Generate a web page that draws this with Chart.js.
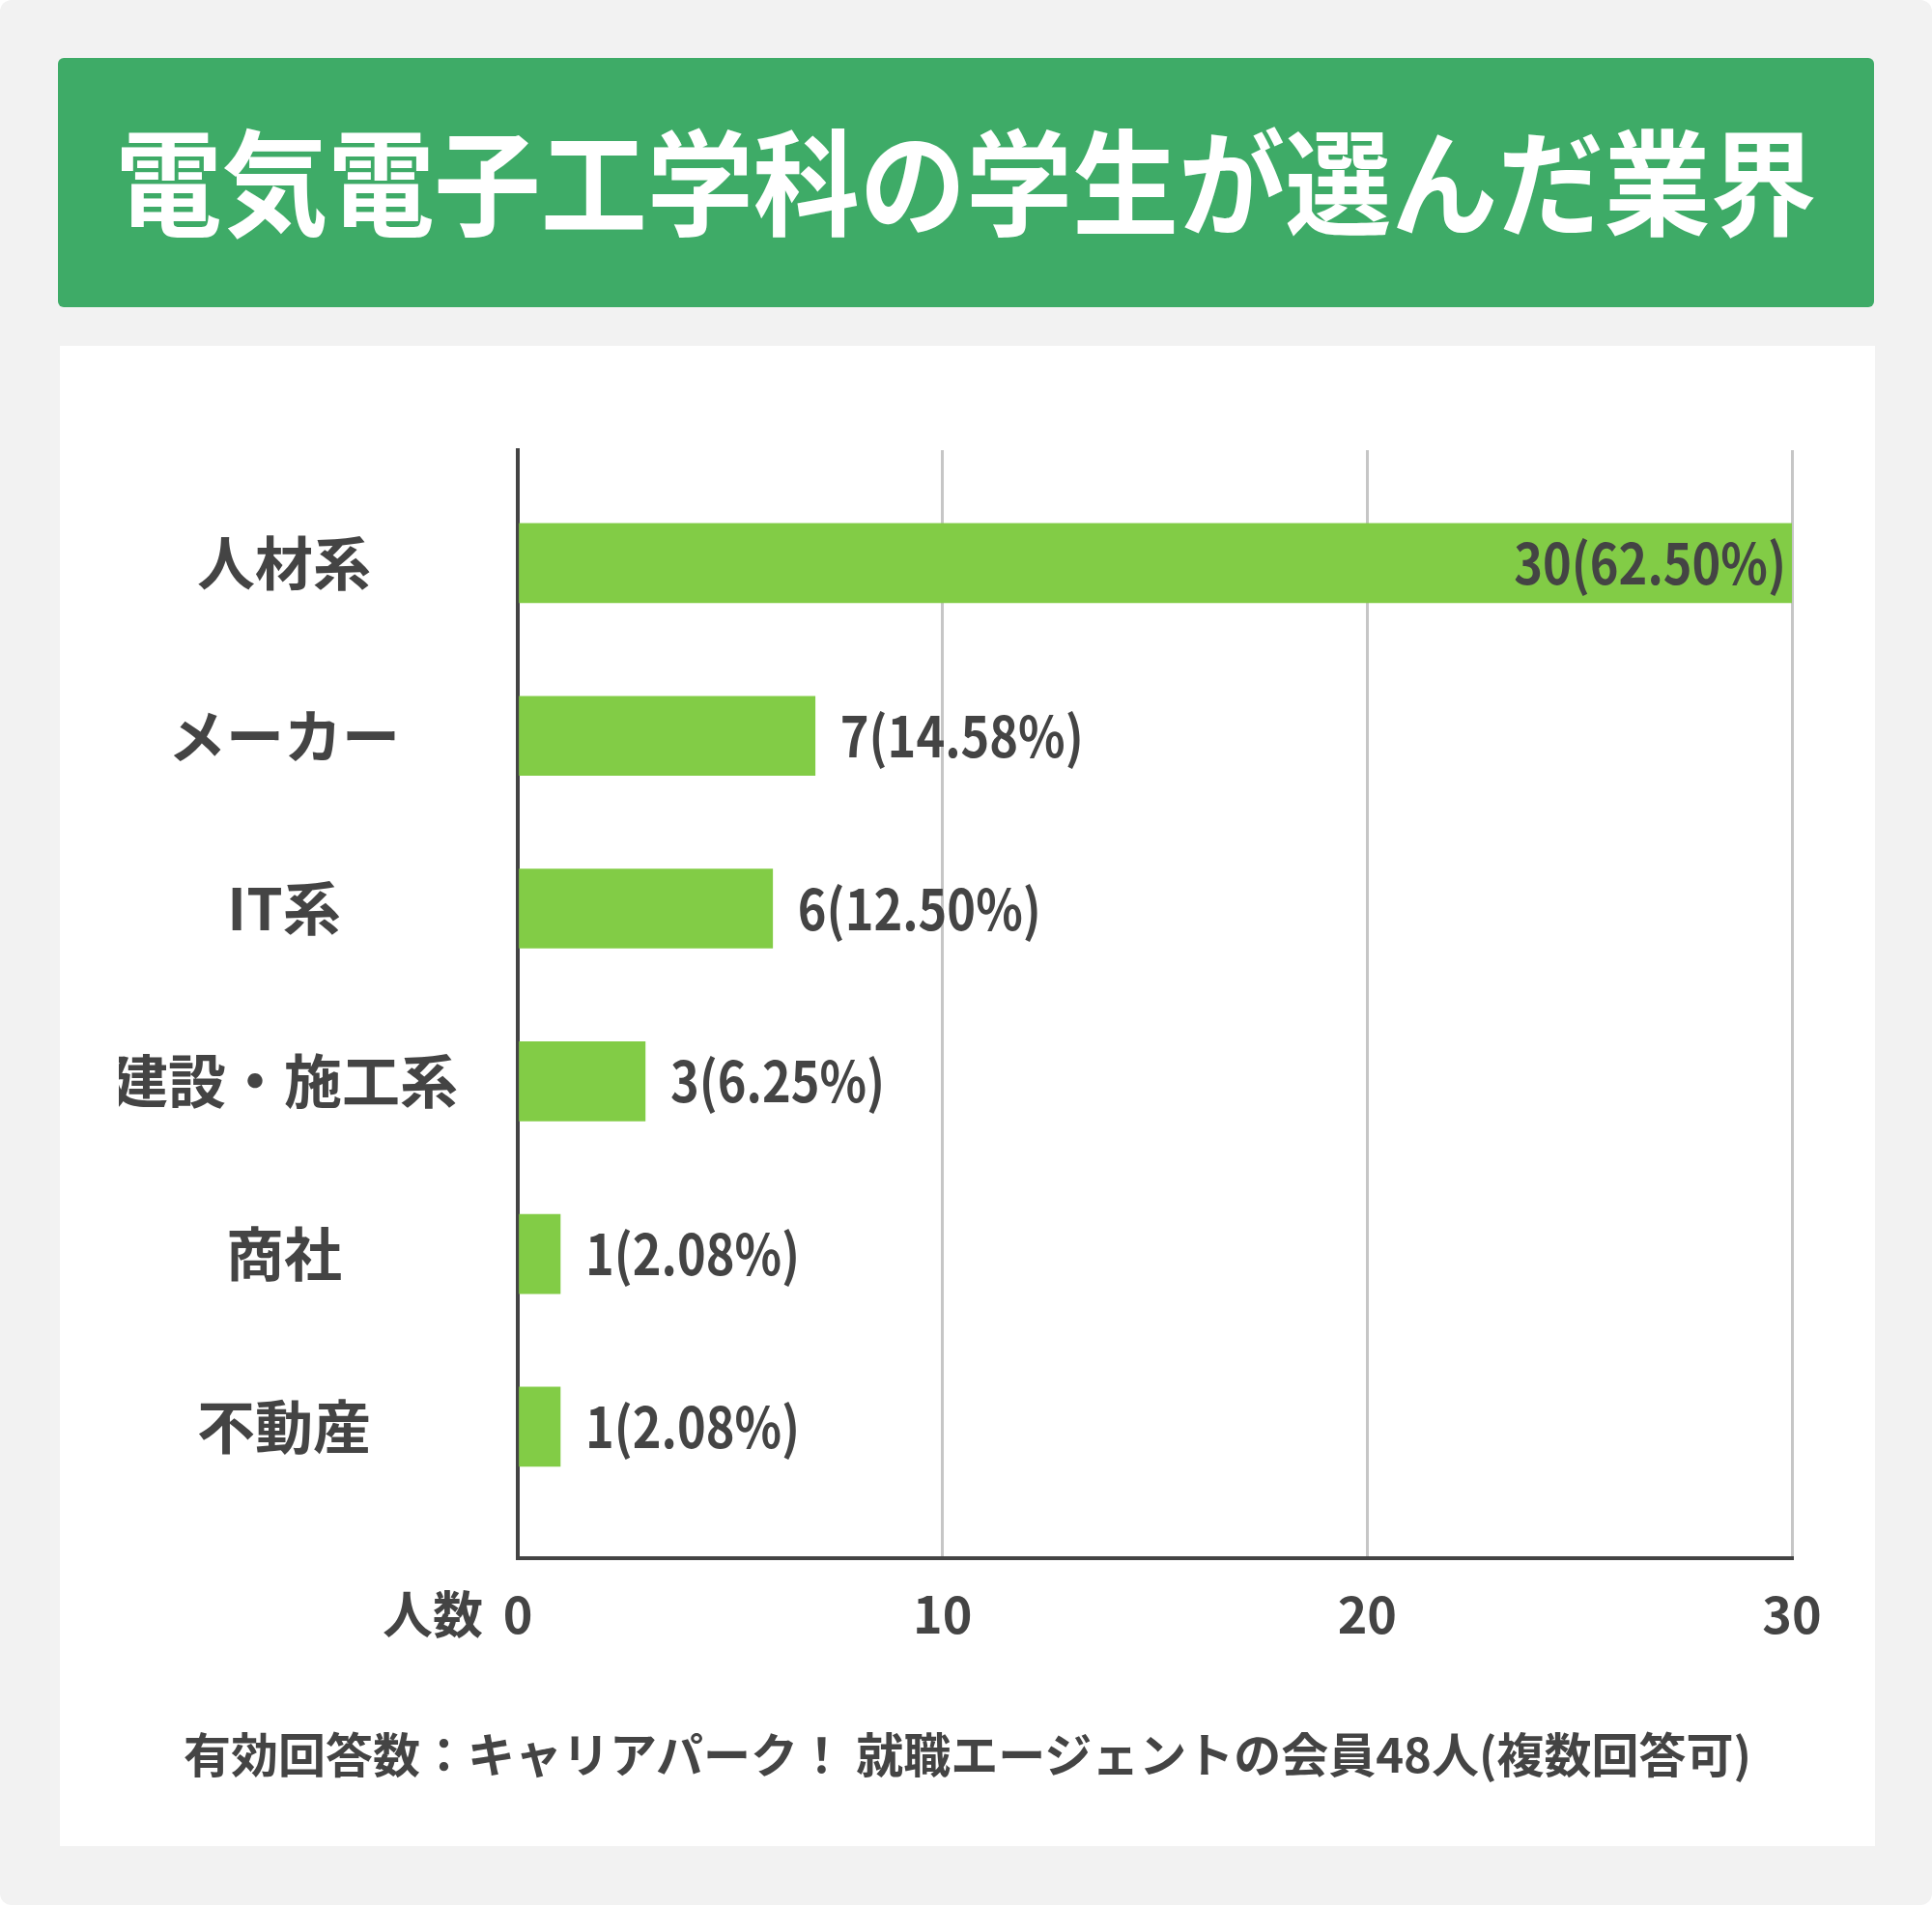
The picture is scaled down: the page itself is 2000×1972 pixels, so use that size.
<!DOCTYPE html>
<html lang="ja">
<head>
<meta charset="utf-8">
<title>電気電子工学科の学生が選んだ業界</title>
<script src="https://cdn.jsdelivr.net/npm/chart.js@4.4.1/dist/chart.umd.min.js"></script>
<style>
    html, body {
        margin: 0;
        padding: 0;
        background: #ffffff;
        overflow: hidden;
    }
    #page {
        position: absolute;
        left: 0;
        top: 0;
        width: 2000px;
        height: 1972px;
        background: #f2f2f2;
        border-radius: 12px;
        font-family: "Noto Sans CJK JP", "Noto Sans", sans-serif;
    }
    #header {
        position: absolute;
        left: 60px;
        top: 60px;
        width: 1880px;
        height: 258px;
        background: #3eab67;
        border-radius: 6px;
        display: flex;
        align-items: center;
        justify-content: center;
        padding-bottom: 12px;
        box-sizing: border-box;
    }
    #header span {
        display: inline-block;
        color: #ffffff;
        font-weight: bold;
        font-size: 119px;
        line-height: 1;
        white-space: nowrap;
        transform: scaleX(0.925);
    }
    #panel {
        position: absolute;
        left: 62px;
        top: 358px;
        width: 1879px;
        height: 1553px;
        background: #ffffff;
    }
    #note {
        position: absolute;
        left: 62px;
        width: 1879px;
        top: 1782px;
        text-align: center;
        color: #444444;
        font-weight: bold;
        font-size: 49px;
        line-height: 64px;
        white-space: nowrap;
    }
    #chart {
        position: absolute;
        left: 0;
        top: 0;
    }
</style>
</head>
<body>
<div id="page">
    <div id="header"><span>電気電子工学科の学生が選んだ業界</span></div>
    <div id="panel"></div>
    <div id="note">有効回答数：キャリアパーク！ 就職エージェントの会員48人(複数回答可)</div>
    <canvas id="chart" width="2000" height="1972"></canvas>
</div>
<script>
// datos del gráfico
const categories = ['人材系', 'メーカー', 'IT系', '建設・施工系', '商社', '不動産'];
const counts = [30, 7, 6, 3, 1, 1];
const percentLabels = ['62.50%', '14.58%', '12.50%', '6.25%', '2.08%', '2.08%'];
const xMin = 0;
const xMax = 30;
const xStep = 10;
const xAxisName = '人数';

const textColor = '#444444';
const fontFamily = '"Noto Sans CJK JP", "Noto Sans", sans-serif';
const tickFontSize = 52;
const tickPad = 27;

// etiquetas de valor al lado de cada barra
const valueLabels = {
    id: 'valueLabels',
    afterDatasetsDraw(chart) {
        const ctx = chart.ctx;
        const meta = chart.getDatasetMeta(0);
        const area = chart.chartArea;
        ctx.save();
        ctx.font = 'bold 58px ' + fontFamily;
        ctx.fillStyle = textColor;
        ctx.textBaseline = 'middle';
        meta.data.forEach((bar, i) => {
            const text = counts[i] + '(' + percentLabels[i] + ')';
            const squeeze = 0.87;
            const w = ctx.measureText(text).width * squeeze;
            let x = bar.x + 26;
            if (x + w > area.right) {
                x = bar.x - 6 - w; // no cabe: dentro de la barra
            }
            ctx.save();
            ctx.translate(x, bar.y);
            ctx.scale(squeeze, 1);
            ctx.textAlign = 'left';
            ctx.fillText(text, 0, 0);
            ctx.restore();
        });
        ctx.restore();
    }
};

// nombre del eje junto al "0"
const axisName = {
    id: 'axisName',
    afterDraw(chart) {
        const ctx = chart.ctx;
        const xScale = chart.scales.x;
        ctx.save();
        ctx.font = 'bold ' + tickFontSize + 'px ' + fontFamily;
        ctx.fillStyle = textColor;
        ctx.textAlign = 'right';
        ctx.textBaseline = 'middle';
        ctx.fillText(xAxisName, xScale.getPixelForValue(xMin) - 36, xScale.top + tickPad + tickFontSize * 0.6);
        ctx.restore();
    }
};

document.addEventListener('DOMContentLoaded', () => {
    const ctx = document.getElementById('chart').getContext('2d');

    new Chart(ctx, {
        type: 'bar',
        data: {
            labels: categories,
            datasets: [{
                data: counts,
                backgroundColor: '#82cc46',
                borderWidth: 0,
                barThickness: 82
            }]
        },
        options: {
            indexAxis: 'y',
            responsive: false,
            devicePixelRatio: 1,
            animation: false,
            layout: {
                padding: { left: 123, right: 145, top: 466, bottom: 259 }
            },
            plugins: {
                legend: { display: false },
                tooltip: { enabled: false }
            },
            scales: {
                x: {
                    min: xMin,
                    max: xMax,
                    afterFit: (scale) => { scale.height = 100; },
                    ticks: {
                        stepSize: xStep,
                        padding: tickPad,
                        color: textColor,
                        font: { family: fontFamily, size: tickFontSize, weight: 'bold' }
                    },
                    grid: {
                        color: '#c6c6c6',
                        lineWidth: 3,
                        drawTicks: false
                    },
                    border: { display: true, color: '#444444', width: 4 }
                },
                y: {
                    afterFit: (scale) => { scale.width = 413; },
                    // un poco más de aire abajo que arriba, como en el original
                    afterBuildTicks: (scale) => {
                        scale._startValue -= 0.154;
                        scale._valueRange += 0.415;
                    },
                    ticks: {
                        crossAlign: 'center',
                        padding: 54,
                        color: textColor,
                        font: { family: fontFamily, size: 60, weight: 'bold' }
                    },
                    grid: { display: false },
                    border: { display: true, color: '#444444', width: 4 }
                }
            }
        },
        plugins: [valueLabels, axisName]
    });
});
</script>
</body>
</html>
